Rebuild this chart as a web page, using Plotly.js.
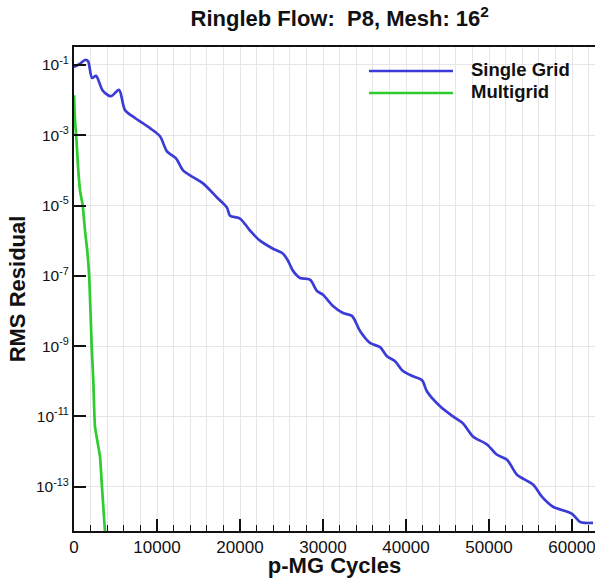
<!DOCTYPE html>
<html>
<head>
<meta charset="utf-8">
<script src="https://cdn.plot.ly/plotly-3.0.1.min.js"></script>
<style>html,body{margin:0;padding:0;background:#fff;}#chart{width:595px;height:578px;}</style>
</head>
<body>
<div id="chart"></div>
<script>
// Single Grid residual history (p-MG cycles vs log10 RMS residual)
const singleCycles = [0, 700, 1325, 1690, 2170, 2650, 3490, 4460, 5420, 6150, 7350, 9160, 10360, 11200, 12290, 13130, 13980, 15540, 17230, 18430, 18800, 20000, 21200, 22410, 23980, 25180, 25780, 26390, 27230, 28430, 29280, 30000, 31200, 32410, 33490, 34460, 35660, 36870, 37710, 38680, 39640, 40840, 41930, 42530, 44100, 45660, 46870, 48070, 49760, 50960, 52170, 53370, 55300, 56390, 57710, 60000, 60960, 61570, 62530];
const singleLogRes = [-1.06, -0.97, -0.86, -0.89, -1.37, -1.31, -1.74, -1.89, -1.71, -2.29, -2.51, -2.80, -3.03, -3.46, -3.66, -4.00, -4.14, -4.37, -4.77, -5.06, -5.29, -5.37, -5.71, -6.00, -6.23, -6.37, -6.57, -6.86, -7.06, -7.11, -7.43, -7.54, -7.86, -8.06, -8.14, -8.57, -8.91, -9.03, -9.29, -9.43, -9.71, -9.86, -9.97, -10.29, -10.71, -11.00, -11.20, -11.57, -11.80, -12.09, -12.23, -12.66, -12.94, -13.29, -13.57, -13.77, -14.00, -14.03, -14.03];
// Multigrid residual history
const multiCycles = [0, 120, 300, 480, 720, 1050, 1325, 1600, 1840, 2130, 2330, 2530, 3130, 3370, 3740];
const multiLogRes = [-1.86, -2.57, -3.14, -3.86, -4.57, -5.00, -5.71, -6.29, -7.06, -9.00, -10.00, -11.29, -12.14, -13.00, -14.31];
// Axis ticks and series labels
const yTickExp = [-1, -3, -5, -7, -9, -11, -13];
const seriesNames = ['Single Grid', 'Multigrid'];
const seriesColors = ['#3b3bd8', '#2ecc2e'];

const toVal = a => a.map(v => Math.pow(10, v));
const yTickVals = yTickExp.map(e => Math.pow(10, e));
const yTickText = yTickExp.map(e => '10<sup>' + e + '</sup>');

const traces = [
  {x: singleCycles, y: toVal(singleLogRes), name: seriesNames[0], mode: 'lines',
   line: {color: seriesColors[0], width: 2.7, shape: 'spline', smoothing: 0.8}},
  {x: multiCycles, y: toVal(multiLogRes), name: seriesNames[1], mode: 'lines',
   line: {color: seriesColors[1], width: 2.7, shape: 'spline', smoothing: 0.5}}
];

// legend drawn as line samples + text in paper coordinates
const legX0 = 0.5662, legX1 = 0.7274, legTextX = 0.7582;
const legY = [0.9504, 0.905];
const shapes = seriesNames.map((n, i) => ({type: 'line', xref: 'paper', yref: 'paper',
  x0: legX0, x1: legX1, y0: legY[i], y1: legY[i], line: {color: seriesColors[i], width: 2.7}}));
const annotations = seriesNames.map((n, i) => ({xref: 'paper', yref: 'paper', x: legTextX, y: legY[i] + 0.004,
  xanchor: 'left', yanchor: 'middle', showarrow: false, text: '<b>' + n + '</b>',
  font: {size: 18.5, family: 'Liberation Sans, Arial, sans-serif', color: '#111'}}));

const FONT = 'Liberation Sans, Arial, Helvetica, sans-serif';
const layout = {
  width: 595, height: 578,
  margin: {l: 74, r: 0, t: 47, b: 47},
  paper_bgcolor: '#fff', plot_bgcolor: '#fff',
  font: {family: FONT, color: '#111'},
  title: {text: '<b>Ringleb Flow:\u00A0\u00A0P8, Mesh: 16<sup>2</sup></b>', font: {size: 22, family: FONT, color: '#111'},
          x: 0.571, xref: 'container', xanchor: 'center', y: 0.968, yref: 'container', yanchor: 'middle'},
  xaxis: {
    range: [0, 62770], dtick: 10000, tick0: 0, tickformat: 'd',
    ticks: 'inside', ticklen: 12, tickwidth: 2, tickcolor: '#111',
    showline: true, linecolor: '#111', linewidth: 2, mirror: true,
    showgrid: true, gridcolor: '#e6e6e6', gridwidth: 1,
    zeroline: false, ticklabeloverflow: 'allow',
    tickfont: {size: 17, family: FONT, color: '#111'},
    minor: {dtick: 2000, ticks: 'inside', ticklen: 6, tickwidth: 1, tickcolor: '#111', showgrid: true, gridcolor: '#e6e6e6', gridwidth: 1},
    title: {text: '<b>p-MG Cycles</b>', font: {size: 22, family: FONT, color: '#111'}, standoff: 0},
    automargin: false
  },
  yaxis: {
    type: 'log', range: [-14.26, -0.49],
    tickvals: yTickVals, ticktext: yTickText,
    ticks: 'inside', ticklen: 12, tickwidth: 2, tickcolor: '#111',
    showline: true, linecolor: '#111', linewidth: 2, mirror: false,
    showgrid: true, gridcolor: '#e6e6e6', gridwidth: 1,
    zeroline: false,
    tickfont: {size: 15.5, family: FONT, color: '#111'},
    title: {text: '<b>RMS Residual</b>', font: {size: 22, family: FONT, color: '#111'}, standoff: 4},
    automargin: false
  },
  showlegend: false,
  shapes: shapes,
  annotations: annotations
};

Plotly.newPlot('chart', traces, layout, {displayModeBar: false, staticPlot: true});
</script>
</body>
</html>
